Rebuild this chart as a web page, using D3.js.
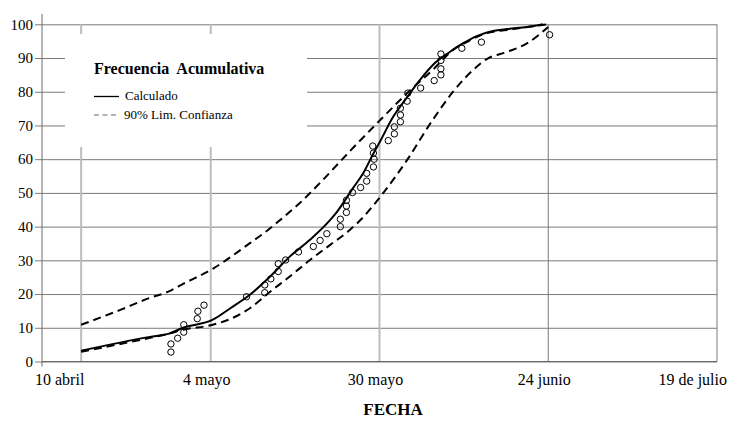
<!DOCTYPE html>
<html>
<head>
<meta charset="utf-8">
<script src="https://cdn.jsdelivr.net/npm/d3@7"></script>
<style>
  body { margin: 0; background: #fff; }
  svg text { font-family: "Liberation Serif", "Times New Roman", serif; fill: #000; }
</style>
</head>
<body>
<script>
// x is in days from 10 April (10 abril -> 19 julio = 100 days)
var xTicks = [0, 25, 50, 75, 100];
var xTickLabels = ['10 abril', '4 mayo', '30 mayo', '24 junio', '19 de julio'];
var yTicks = [0, 10, 20, 30, 40, 50, 60, 70, 80, 90, 100];
var startDay = 5.8;

// Calculado (solid)
var calcX = [5.8, 16.0, 18.7, 20.9, 25.3, 27.9, 30.8, 33.8, 36.7, 39.7, 42.7, 43.7, 46.1, 47.6, 49.0, 50.2, 52.0, 54.1, 56.0, 58.2, 60.4, 62.4, 64.4, 66.8, 68.9, 71.9, 74.2];
var calcY = [3.2, 7.3, 8.2, 10.0, 12.4, 15.8, 19.8, 25.2, 31.1, 36.1, 42.0, 44.4, 51.5, 55.9, 61.3, 65.7, 72.5, 78.4, 83.5, 88.5, 91.8, 94.4, 96.5, 98.0, 98.6, 99.2, 100];

// 90% limite de confianza, superior
var upperX = [5.8, 11.6, 16.0, 18.7, 20.9, 25.3, 30.8, 33.8, 35.3, 38.2, 41.2, 46.1, 50.1, 54.1, 57.9, 60.9, 63.0, 65.9, 68.9, 71.9, 74.8];
var upperY = [10.9, 15.3, 18.9, 20.7, 23.0, 27.5, 35.1, 39.5, 42.0, 47.0, 53.0, 63.4, 71.6, 79.6, 86.5, 92.4, 94.8, 97.4, 98.3, 99.2, 100];

// 90% limite de confianza, inferior
var lowerX = [5.8, 11.6, 16.0, 18.7, 20.9, 25.3, 27.9, 30.8, 33.8, 36.7, 39.7, 42.7, 45.6, 47.1, 50.1, 54.1, 57.9, 60.9, 63.9, 65.9, 68.9, 71.9, 75.0];
var lowerY = [2.9, 5.2, 7.0, 8.2, 9.4, 10.9, 12.6, 15.8, 20.7, 25.2, 30.1, 34.6, 39.0, 41.8, 48.8, 59.8, 71.7, 80.0, 86.5, 89.7, 91.8, 94.4, 99.2];

// observados
var obsX = [19.1, 19.1, 20.1, 21.0, 21.0, 23.0, 23.1, 24.0, 30.3, 33.0, 33.0, 33.9, 35.0, 35.0, 36.1, 38.0, 40.2, 41.2, 42.2, 44.2, 44.2, 45.1, 45.1, 45.1, 46.0, 47.2, 48.1, 48.1, 49.1, 49.2, 49.1, 49.0, 51.3, 52.2, 52.2, 53.1, 53.1, 53.1, 54.1, 54.2, 56.1, 58.1, 59.1, 59.1, 59.1, 59.1, 62.2, 65.1, 75.2];
var obsY = [2.8, 5.2, 6.9, 8.7, 10.9, 12.7, 14.9, 16.7, 19.2, 20.4, 22.7, 24.5, 26.7, 29.0, 30.1, 32.5, 34.1, 35.9, 37.9, 40.0, 42.2, 44.2, 46.1, 47.8, 50.1, 51.6, 53.5, 55.8, 57.7, 60.0, 61.8, 63.9, 65.5, 67.5, 69.6, 71.1, 73.1, 75.1, 77.2, 79.6, 81.1, 83.3, 85.0, 86.8, 89.3, 91.2, 92.9, 94.7, 96.9];

var w = 738, h = 421;
var plotLeft = 42, plotRight = 717, plotTop = 24.3, plotBottom = 361.5;
var serif = '"Liberation Serif", "Times New Roman", serif';

var x = d3.scaleLinear().domain([0, 100]).range([plotLeft, plotRight]);
var y = d3.scaleLinear().domain([0, 100]).range([plotBottom, plotTop]);

var svg = d3.select('body').append('svg')
  .attr('width', w)
  .attr('height', h)
  .style('font-family', serif);

svg.append('rect').attr('width', w).attr('height', h).attr('fill', '#fff');

// horizontal grid + y labels
var yAxis = svg.append('g')
  .attr('transform', 'translate(' + plotLeft + ',0)')
  .call(d3.axisLeft(y).tickValues(yTicks).tickSize(-(plotRight - plotLeft)).tickPadding(9));
yAxis.attr('font-family', null);
yAxis.select('.domain').remove();
yAxis.selectAll('line').attr('x1', -7).attr('stroke', '#7a7a7a');
yAxis.selectAll('text')
  .attr('font-family', serif)
  .style('font-size', '15px');

// vertical grid
var vLines = [startDay].concat(xTicks.slice(1));
svg.selectAll('.vgrid')
  .data(vLines)
  .enter().append('line')
  .classed('vgrid', true)
  .attr('x1', function(d){ return x(d); })
  .attr('x2', function(d){ return x(d); })
  .attr('y1', plotTop)
  .attr('y2', plotBottom)
  .attr('stroke', function(d, i){ return i < 3 ? '#bdbdbd' : '#7a7a7a'; })
  .attr('stroke-width', function(d, i){ return i < 3 ? 2 : 1; });

// axis lines
svg.append('line').attr('x1', plotLeft).attr('x2', plotLeft).attr('y1', 14).attr('y2', plotBottom + 5)
  .attr('stroke', '#6a6a6a');
svg.append('line').attr('x1', plotLeft).attr('x2', plotRight).attr('y1', plotBottom).attr('y2', plotBottom)
  .attr('stroke', '#6a6a6a');

// x labels
svg.selectAll('.xlab')
  .data(xTicks)
  .enter().append('text')
  .classed('xlab', true)
  .attr('x', function(d){ return x(d); })
  .attr('dx', function(d, i){ return i === 0 ? -7 : (i === xTicks.length - 1 ? 10 : -4); })
  .attr('y', 385)
  .attr('text-anchor', function(d, i){ return i === 0 ? 'start' : (i === xTicks.length - 1 ? 'end' : 'middle'); })
  .style('font-size', '16px')
  .text(function(d, i){ return xTickLabels[i]; });

svg.append('text')
  .attr('x', 393)
  .attr('y', 415)
  .attr('text-anchor', 'middle')
  .style('font-size', '17px')
  .style('font-weight', 'bold')
  .text('FECHA');

// legend box (covers grid)
var lg = svg.append('g');
lg.append('rect').attr('x', 65).attr('y', 34).attr('width', 242).attr('height', 113).attr('fill', '#fff');
lg.append('text').attr('x', 94).attr('y', 74)
  .style('font-size', '16px').style('font-weight', 'bold')
  .style('white-space', 'pre')
  .text('Frecuencia  Acumulativa');
lg.append('line').attr('x1', 94).attr('x2', 119).attr('y1', 96.5).attr('y2', 96.5)
  .attr('stroke', '#000').attr('stroke-width', 1.3);
lg.append('text').attr('x', 125).attr('y', 100).style('font-size', '13px').text('Calculado');
lg.append('line').attr('x1', 94).attr('x2', 119).attr('y1', 115).attr('y2', 115)
  .attr('stroke', '#9a9a9a').attr('stroke-width', 1.5).attr('stroke-dasharray', '5,3.5');
lg.append('text').attr('x', 124).attr('y', 118.5).style('font-size', '13px').text('90% Lim. Confianza');

function series(xs, ys){
  return xs.map(function(d, i){ return [d, ys[i]]; });
}

var line = d3.line()
  .x(function(d){ return x(d[0]); })
  .y(function(d){ return y(d[1]); })
  .curve(d3.curveMonotoneX);

var chart = svg.append('g');

chart.append('path')
  .datum(series(upperX, upperY))
  .attr('d', line)
  .attr('fill', 'none')
  .attr('stroke', '#000')
  .attr('stroke-width', 2)
  .attr('stroke-dasharray', '8,5');

chart.append('path')
  .datum(series(lowerX, lowerY))
  .attr('d', line)
  .attr('fill', 'none')
  .attr('stroke', '#000')
  .attr('stroke-width', 2)
  .attr('stroke-dasharray', '8,5');

chart.append('path')
  .datum(series(calcX, calcY))
  .attr('d', line)
  .attr('fill', 'none')
  .attr('stroke', '#000')
  .attr('stroke-width', 2);

chart.selectAll('.obs')
  .data(series(obsX, obsY))
  .enter().append('circle')
  .classed('obs', true)
  .attr('cx', function(d){ return x(d[0]); })
  .attr('cy', function(d){ return y(d[1]); })
  .attr('r', 3.2)
  .attr('fill', 'none')
  .attr('stroke', '#000')
  .attr('stroke-width', 1);
</script>
</body>
</html>
